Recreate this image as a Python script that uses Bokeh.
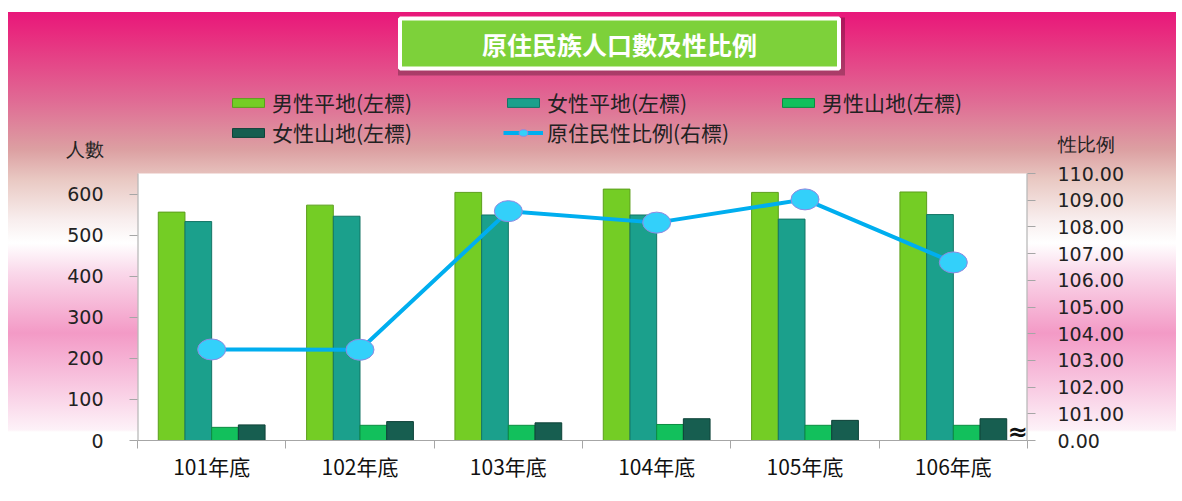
from bokeh.plotting import figure
from bokeh.models import (Range1d, LinearAxis, FixedTicker, Legend,
                          LegendItem, Label, ColumnDataSource, PrintfTickFormatter)
from bokeh.transform import dodge
from bokeh.embed import file_html
from bokeh.resources import INLINE

# ---- data ----
categories = ["101年底", "102年底", "103年底", "104年底", "105年底", "106年底"]
male_plain = [556, 573, 604, 612, 604, 605]
female_plain = [533, 546, 549, 549, 539, 550]
male_mountain = [32, 37, 37, 39, 37, 37]
female_mountain = [38, 46, 43, 53, 49, 53]
sex_ratio = [103.41, 103.40, 108.59, 108.16, 109.03, 106.67]

series_names = ["男性平地(左標)", "女性平地(左標)", "男性山地(左標)", "女性山地(左標)"]
ratio_name = "原住民性比例(右標)"
title_text = "原住民族人口數及性比例"
left_title = "人數"
right_title = "性比例"
left_ticks = [0, 100, 200, 300, 400, 500, 600]
right_ticks = [100, 101, 102, 103, 104, 105, 106, 107, 108, 109, 110]
left_max, right_min, right_max = 650, 100, 110

n = len(categories)
centers = [i + 0.5 for i in range(n)]      # category centres on a 0..n axis
bounds = list(range(n + 1))                 # category boundaries

src = ColumnDataSource(dict(x=centers, mp=male_plain, fp=female_plain,
                            mm=male_mountain, fm=female_mountain, r=sex_ratio))

W, H = 1182, 501
FONT = "Noto Sans CJK TC"
# frame spans page y 12..440; the plot area (0..650) spans 173..440
FT, FB, PT = 12, 440, 173
ext = (FB - FT) / (FB - PT)
y_end = left_max * ext
r_end = right_min + (right_max - right_min) * ext
left_title_y = (FB - 148) / (FB - PT) * left_max
right_title_y = right_min + (FB - 143) / (FB - PT) * (right_max - right_min)

p = figure(width=W, height=H, output_backend="svg", toolbar_location=None,
           x_range=Range1d(0, n), y_range=Range1d(0, y_end),
           x_axis_location=None, y_axis_location=None,
           min_border_left=137, min_border_right=155, min_border_top=FT,
           min_border_bottom=H - FB)
p.extra_y_ranges = {"ratio": Range1d(right_min, r_end)}
p.grid.visible = False
p.outline_line_color = None
p.background_fill_color = None
p.border_fill_color = None
p.border_fill_alpha = 0
p.styles = {
    "background-image": (
        "linear-gradient(to bottom, #e8177a 0px, #e82a7e 21px, "
        "#e06a94 88px, #dca0a2 138px, #e9c9c3 168px, #f8eeee 208px, #ffffff 231px, "
        "#fad8ea 261px, #f39ac6 321px, #f8c6e0 371px, #fdf2f8 418px, #ffffff 420px, #ffffff 100%)"),
    "background-repeat": "no-repeat",
    "background-position": "8px 12px",
    "background-size": "1168px 489px",
}

GRAY = "#a6a6a6"
# white plot area and its vertical edges
p.quad(left=0, right=n, bottom=0, top=left_max, fill_color="white", line_color=None)
p.segment(x0=[0, n], y0=[0, 0], x1=[0, n], y1=[left_max, left_max],
          line_color=GRAY, line_width=2)

# left axis (axis title drawn as an extra labelled tick above the plot area)
ax_l = LinearAxis(ticker=FixedTicker(ticks=left_ticks + [left_title_y], minor_ticks=left_ticks),
                  major_label_overrides={left_title_y: left_title})
ax_l.axis_line_color = None
ax_l.major_tick_line_color = None
ax_l.major_tick_out = 8
ax_l.major_tick_in = 0
ax_l.minor_tick_line_color = GRAY
ax_l.minor_tick_out = 8
ax_l.minor_tick_in = 0
ax_l.major_label_standoff = 26
ax_l.major_label_text_font = "DejaVu Sans"
ax_l.major_label_text_font_size = "19px"
ax_l.major_label_text_color = "#222222"
p.add_layout(ax_l, "left")

# right axis
ax_r = LinearAxis(y_range_name="ratio",
                  ticker=FixedTicker(ticks=right_ticks + [right_title_y], minor_ticks=right_ticks),
                  formatter=PrintfTickFormatter(format="%.2f"),
                  major_label_overrides={right_min: "0.00", right_title_y: right_title})
ax_r.axis_line_color = None
ax_r.major_tick_line_color = None
ax_r.major_tick_out = 8
ax_r.major_tick_in = 0
ax_r.minor_tick_line_color = GRAY
ax_r.minor_tick_out = 8
ax_r.minor_tick_in = 0
ax_r.major_label_standoff = 22
ax_r.major_label_text_font = "DejaVu Sans"
ax_r.major_label_text_font_size = "19px"
ax_r.major_label_text_color = "#222222"
p.add_layout(ax_r, "right")

# bottom axis: labels at category centres, ticks at category boundaries
ax_b = LinearAxis(ticker=FixedTicker(ticks=centers, minor_ticks=bounds),
                  major_label_overrides={c: name for c, name in zip(centers, categories)})
ax_b.axis_line_color = GRAY
ax_b.major_tick_line_color = None
ax_b.major_tick_out = 0
ax_b.major_tick_in = 0
ax_b.minor_tick_line_color = GRAY
ax_b.minor_tick_out = 8
ax_b.minor_tick_in = 0
ax_b.major_label_standoff = 2
ax_b.major_label_text_font = FONT
ax_b.major_label_text_font_size = "21px"
ax_b.major_label_text_color = "#111111"
p.add_layout(ax_b, "below")

# bars
bw = 0.18
offs = [-1.5 * bw, -0.5 * bw, 0.5 * bw, 1.5 * bw]
fills = ["#74cd25", "#1ba08c", "#12c05c", "#175e50"]
lines = ["#5c9e1c", "#137565", "#0b8c42", "#0e4238"]
cols = ["mp", "fp", "mm", "fm"]
bar_rs = []
for off, col, fc, lc in zip(offs, cols, fills, lines):
    r = p.vbar(x=dodge("x", off), top=col, width=bw, source=src,
               fill_color=fc, line_color=lc, line_width=1)
    bar_rs.append(r)

# ratio line
lr = p.line(x="x", y="r", source=src, y_range_name="ratio",
            line_color="#00aeef", line_width=4)
er = p.ellipse(x="x", y="r", width=28, height=21, width_units="screen",
               height_units="screen", source=src, y_range_name="ratio",
               fill_color="#33d0fa", line_color="#9088e0", line_width=1)

# legend filled column by column -> order so rows read as in the reference
items = [LegendItem(label=series_names[0], renderers=[bar_rs[0]]),
         LegendItem(label=series_names[3], renderers=[bar_rs[3]]),
         LegendItem(label=series_names[1], renderers=[bar_rs[1]]),
         LegendItem(label=ratio_name, renderers=[lr, er]),
         LegendItem(label=series_names[2], renderers=[bar_rs[2]])]
leg = Legend(items=items, ncols=3, location=(91, 293),
             glyph_width=40, glyph_height=11, label_standoff=4, spacing=0,
             label_width=231, label_height=24, padding=0, margin=0,
             border_line_color=None, background_fill_alpha=0,
             label_text_font=FONT, label_text_font_size="21px",
             label_text_color="#222222")
p.add_layout(leg, "center")

# title box (shadow + box)
title_y = (FB - 43) / (FB - PT) * left_max
title_x = n * (619 - 137) / (1027 - 137)
p.add_layout(Label(x=title_x, y=title_y, text=title_text,
                   x_offset=2, y_offset=-3,
                   text_align="center", text_baseline="middle",
                   text_font=FONT, text_font_size="25px", text_font_style="bold",
                   text_color="rgba(0,0,0,0)",
                   background_fill_color="black", background_fill_alpha=0.25,
                   padding=dict(left=86, right=86, top=11, bottom=11)))
p.add_layout(Label(x=title_x, y=title_y, text=title_text,
                   text_align="center", text_baseline="middle",
                   text_font=FONT, text_font_size="25px", text_font_style="bold",
                   text_color="white",
                   background_fill_color="#7dd13a",
                   border_line_color="white", border_line_width=4,
                   padding=dict(left=82, right=82, top=7, bottom=7)))

# axis break mark
p.add_layout(Label(x=n, y=0, x_offset=-10, y_offset=9, text="≈",
                   text_align="center", text_baseline="middle",
                   text_font="DejaVu Sans", text_font_size="24px",
                   text_font_style="bold", text_color="#111111"))

open("out.html", "w").write(file_html(p, INLINE))
